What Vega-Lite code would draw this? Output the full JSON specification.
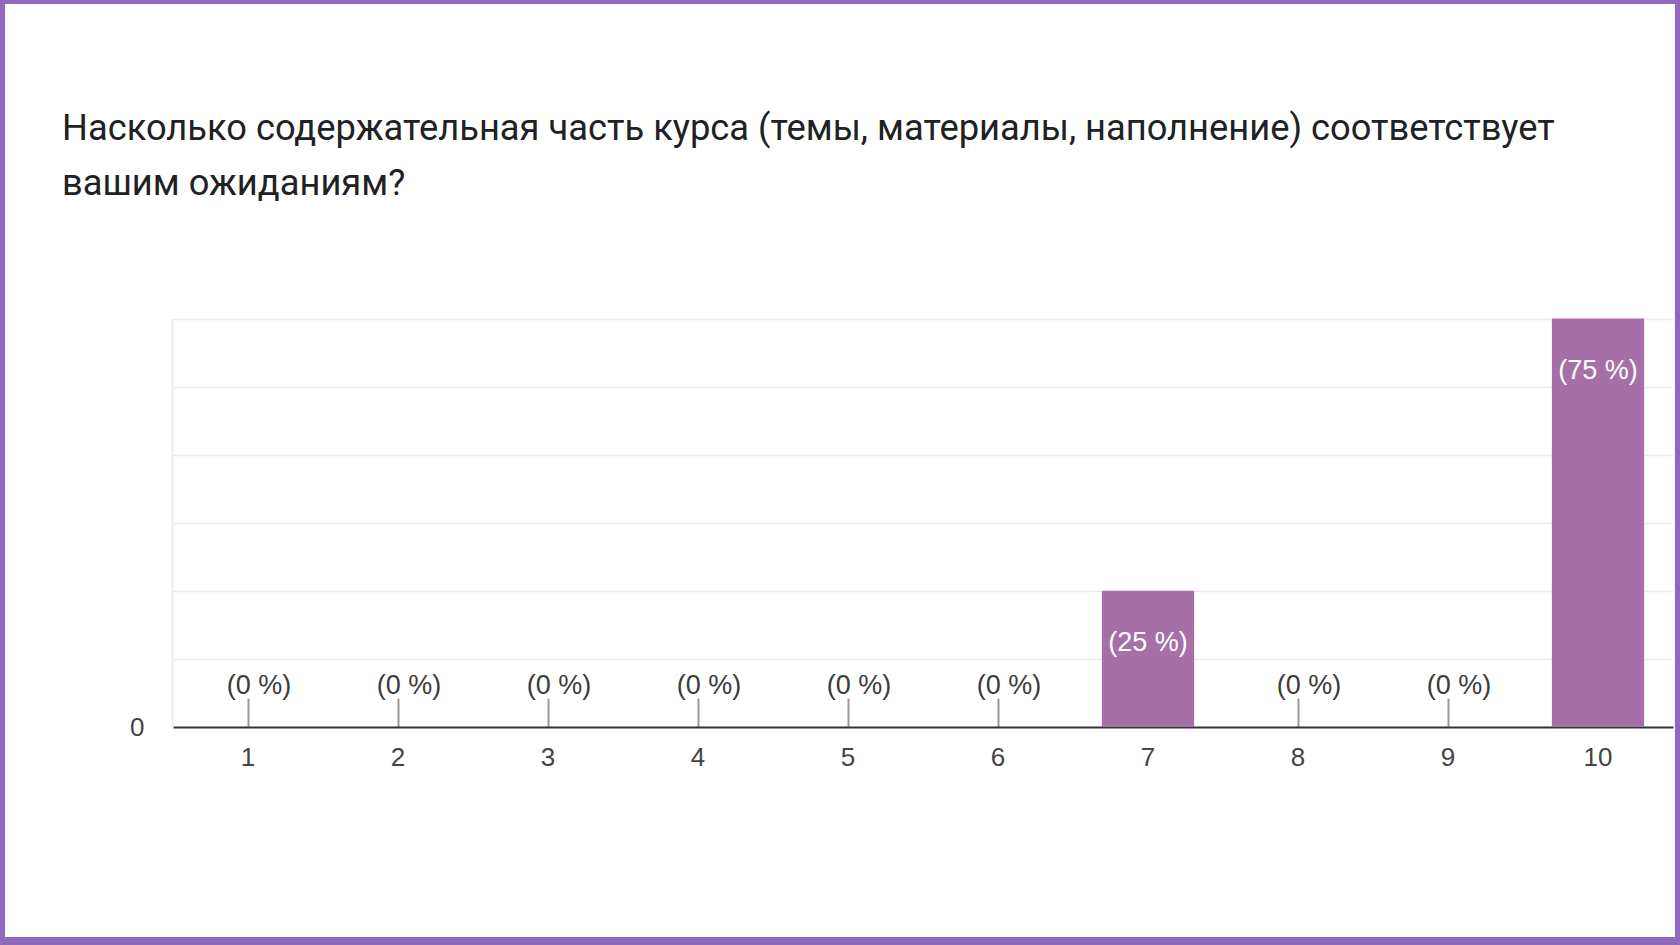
{
  "$schema": "https://vega.github.io/schema/vega-lite/v6.json",
  "width": 1670,
  "height": 933,
  "autosize": {"type": "none"},
  "padding": {"left": 5, "top": 4, "right": 5, "bottom": 8},
  "background": "#8e69bd",
  "config": {"view": {"stroke": null, "fill": "#ffffff"}, "font": "Liberation Sans"},
  "title": {
    "text": ["Насколько содержательная часть курса (темы, материалы, наполнение) соответствует", "вашим ожиданиям?"],
    "font": "Roboto",
    "fontSize": 36.3,
    "fontWeight": "normal",
    "color": "#202124",
    "anchor": "start",
    "frame": "group",
    "orient": "top",
    "baseline": "top",
    "lineHeight": 55,
    "offset": 0,
    "dx": 57,
    "dy": 198
  },
  "data": {
    "values": [
      {"rating": 1, "count": 0, "label": "(0 %)"},
      {"rating": 2, "count": 0, "label": "(0 %)"},
      {"rating": 3, "count": 0, "label": "(0 %)"},
      {"rating": 4, "count": 0, "label": "(0 %)"},
      {"rating": 5, "count": 0, "label": "(0 %)"},
      {"rating": 6, "count": 0, "label": "(0 %)"},
      {"rating": 7, "count": 1, "label": "(25 %)"},
      {"rating": 8, "count": 0, "label": "(0 %)"},
      {"rating": 9, "count": 0, "label": "(0 %)"},
      {"rating": 10, "count": 3, "label": "(75 %)"}
    ]
  },
  "encoding": {
    "x": {
      "field": "rating",
      "type": "ordinal",
      "scale": {"type": "band", "range": [168, 1668], "paddingInner": 0.385, "paddingOuter": 0.1925},
      "axis": {
        "title": null,
        "labelAngle": 0,
        "offset": -210,
        "grid": false,
        "domainColor": "#333333",
        "domainWidth": 2,
        "tickColor": "#999999",
        "tickWidth": 2,
        "tickSize": -29,
        "labelFontSize": 26,
        "labelColor": "#444444",
        "labelPadding": 46
      }
    },
    "y": {
      "field": "count",
      "type": "quantitative",
      "scale": {"domain": [0, 3], "range": [723, 314.5], "nice": false},
      "axis": {
        "title": null,
        "values": [0, 0.5, 1, 1.5, 2, 2.5, 3],
        "labelExpr": "datum.value == 0 ? '0' : ''",
        "offset": -167,
        "domain": true,
        "domainColor": "#ebebeb",
        "domainWidth": 2,
        "ticks": false,
        "grid": true,
        "gridColor": "#ebebeb",
        "gridWidth": 1.5,
        "labelFontSize": 26,
        "labelColor": "#444444",
        "labelPadding": 28
      }
    }
  },
  "layer": [
    {"mark": {"type": "bar", "color": "#a76fa8"}},
    {
      "transform": [{"filter": "datum.count == 0"}],
      "mark": {"type": "text", "fontSize": 27, "color": "#3c3c3c", "baseline": "middle", "align": "center", "dy": -41, "dx": 11},
      "encoding": {"text": {"field": "label"}}
    },
    {
      "transform": [{"filter": "datum.count > 0"}],
      "mark": {"type": "text", "fontSize": 27, "color": "#ffffff", "baseline": "middle", "align": "center", "dy": 52},
      "encoding": {"text": {"field": "label"}}
    }
  ]
}
